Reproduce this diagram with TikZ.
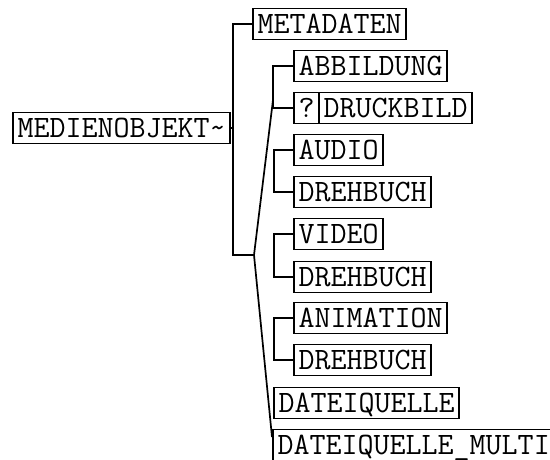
\documentclass[tikz,border=0pt]{standalone}
\usepackage{fontspec}
\tikzset{
  box/.style={draw, line width=1.7pt, anchor=west,
    font={\ttfamily\fontsize{31.1}{36}\selectfont},
    inner xsep=4.5pt, inner ysep=0pt, text height=18.5pt, text depth=0pt,
    minimum height=31pt, outer sep=0pt},
  conn/.style={line width=1.7pt}
}
\begin{document}
\begin{tikzpicture}[x=1pt,y=-1pt]
\useasboundingbox (0,0) rectangle (550,459);
\clip (0,0) rectangle (550,459);
\node[box] (root) at (13,128) {MEDIENOBJEKT\textasciitilde};
\node[box] (meta) at (253,24) {METADATEN};
\node[box] (abb) at (294,66) {ABBILDUNG};
\node[box] (q) at (294,108) {?};
\node[box] (druck) at (q.east) {DRUCKBILD};
\node[box] (audio) at (294,150) {AUDIO};
\node[box] (dreh1) at (294,192) {DREHBUCH};
\node[box] (video) at (294,234) {VIDEO};
\node[box] (dreh2) at (294,277) {DREHBUCH};
\node[box] (anim) at (294,318) {ANIMATION};
\node[box] (dreh3) at (294,360) {DREHBUCH};
\node[box] (datei) at (274,403) {DATEIQUELLE};
\node[box] (multi) at (273,445) {DATEIQUELLE\textunderscore MULTI};
% root connectors
\coordinate (rtop) at (233,24);
\coordinate (rbot) at (233,255);
\coordinate (apex) at (254,255);
\draw[conn] (root.east) -- (root.east -| rtop);
\draw[conn] (meta.west) -- (rtop) -- (rbot) -- (apex);
% slanted bracket
\coordinate (s1) at (273,100);
\coordinate (s2) at (272,437);
\draw[conn] (s1) -- (apex) -- (s2);
% groups
\coordinate (g1) at (273,0);
\coordinate (g2) at (274,0);
\draw[conn] (abb.west) -- (abb.west -| g1) -- (q.west -| g1) -- (q.west);
\draw[conn] (audio.west) -- (audio.west -| g2) -- (dreh1.west -| g2) -- (dreh1.west);
\draw[conn] (video.west) -- (video.west -| g2) -- (dreh2.west -| g2) -- (dreh2.west);
\draw[conn] (anim.west) -- (anim.west -| g2) -- (dreh3.west -| g2) -- (dreh3.west);
\end{tikzpicture}
\end{document}
